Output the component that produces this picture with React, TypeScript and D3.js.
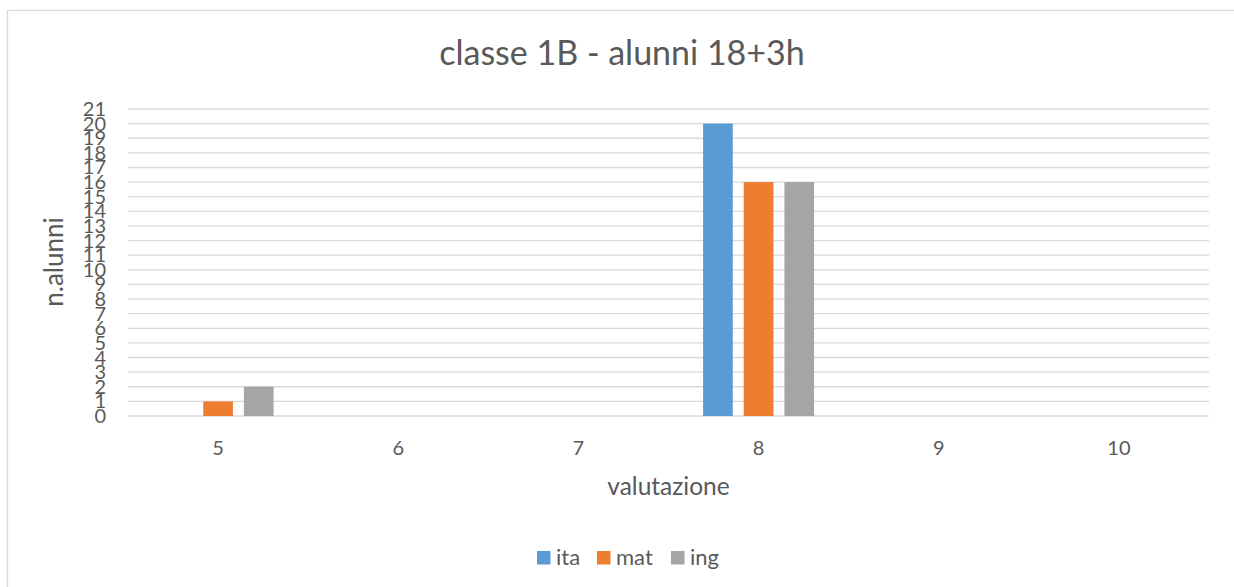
import React, { useEffect, useRef } from 'react';
import * as d3 from 'd3';

const categories = ['5', '6', '7', '8', '9', '10'];
const series = ['ita', 'mat', 'ing'];
const ita = [0, 0, 0, 20, 0, 0];
const mat = [1, 0, 0, 16, 0, 0];
const ing = [2, 0, 0, 16, 0, 0];
const colors = ['#5b9bd5', '#ed7d31', '#a5a5a5'];
const yTicks = d3.range(0, 22);

const W = 1234;
const H = 587;
const FONT = 'Lato, "Open Sans", sans-serif';
const TEXT = '#595959';

export default function App() {
  const ref = useRef<SVGSVGElement>(null);

  useEffect(() => {
    const svg = d3.select(ref.current);
    svg.selectAll('*').remove();

    const margin = { top: 109, right: 25, bottom: 171, left: 128 };
    const plotW = W - margin.left - margin.right;
    const plotH = H - margin.top - margin.bottom;

    // chart frame
    svg.append('rect')
      .attr('x', 7.5).attr('y', 10.5)
      .attr('width', W).attr('height', H)
      .attr('fill', '#fff').attr('stroke', '#d9d9d9').attr('stroke-width', 1.3);

    const g = svg.append('g').attr('transform', `translate(${margin.left},${margin.top})`);

    const x = d3.scaleBand().domain(categories).range([0, plotW]);
    const y = d3.scaleLinear().domain([0, 21]).range([plotH, 0]);
    const x1 = d3.scaleBand().domain(series).range([0, 111]).paddingInner(0.27);

    // gridlines
    g.selectAll('line.grid')
      .data(yTicks)
      .enter()
      .append('line')
      .attr('class', 'grid')
      .attr('x1', 0).attr('x2', plotW)
      .attr('y1', (d) => y(d)).attr('y2', (d) => y(d))
      .attr('stroke', '#d9d9d9').attr('stroke-width', 1.3);

    // y tick labels (they overlap in the original too)
    g.selectAll('text.ytick')
      .data(yTicks)
      .enter()
      .append('text')
      .attr('class', 'ytick')
      .attr('x', -22)
      .attr('y', (d) => y(d) + 7)
      .attr('text-anchor', 'end')
      .attr('font-size', 20)
      .attr('font-family', FONT)
      .attr('fill', TEXT)
      .text((d) => d);

    // bars
    const values = [ita, mat, ing];
    series.forEach((s, si) => {
      g.selectAll(`rect.bar-${s}`)
        .data(categories)
        .enter()
        .append('rect')
        .attr('x', (c) => x(c)! + x.bandwidth() / 2 - 55.5 + x1(s)!)
        .attr('y', (c, i) => y(values[si][i]))
        .attr('width', x1.bandwidth())
        .attr('height', (c, i) => plotH - y(values[si][i]))
        .attr('fill', colors[si]);
    });

    // x tick labels
    g.selectAll('text.xtick')
      .data(categories)
      .enter()
      .append('text')
      .attr('class', 'xtick')
      .attr('x', (c) => x(c)! + x.bandwidth() / 2)
      .attr('y', plotH + 39)
      .attr('text-anchor', 'middle')
      .attr('font-size', 20)
      .attr('font-family', FONT)
      .attr('fill', TEXT)
      .text((c) => c);

    // title
    svg.append('text')
      .attr('x', 622).attr('y', 65)
      .attr('text-anchor', 'middle')
      .attr('font-size', 34)
      .attr('font-family', FONT)
      .attr('fill', TEXT)
      .text('classe 1B - alunni 18+3h');

    // axis titles
    svg.append('text')
      .attr('x', margin.left + plotW / 2).attr('y', 495)
      .attr('text-anchor', 'middle')
      .attr('font-size', 24.5)
      .attr('font-family', FONT)
      .attr('fill', TEXT)
      .text('valutazione');

    svg.append('text')
      .attr('transform', 'translate(63,262) rotate(-90)')
      .attr('text-anchor', 'middle')
      .attr('font-size', 26)
      .attr('font-family', FONT)
      .attr('fill', TEXT)
      .text('n.alunni');

    // legend
    const legendX = [537, 597, 671];
    series.forEach((s, i) => {
      svg.append('rect')
        .attr('x', legendX[i]).attr('y', 551)
        .attr('width', 13.5).attr('height', 13.5)
        .attr('fill', colors[i]);
      svg.append('text')
        .attr('x', legendX[i] + 19).attr('y', 565)
        .attr('font-size', 22)
        .attr('font-family', FONT)
        .attr('fill', TEXT)
        .text(s);
    });
  }, []);

  return (
    <svg
      ref={ref}
      width={W}
      height={H}
      style={{ display: 'block', position: 'absolute', left: 0, top: 0 }}
    />
  );
}
